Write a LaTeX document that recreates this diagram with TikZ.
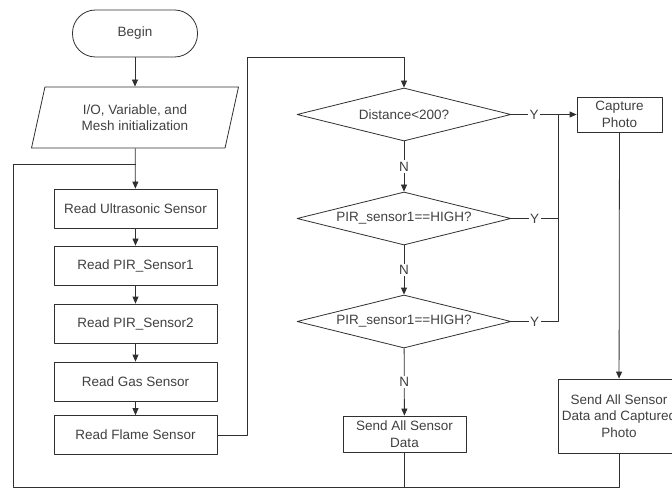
\documentclass[tikz,border=0pt]{standalone}
\usepackage{fontspec}
\setmainfont{Liberation Sans}
\usetikzlibrary{shapes.geometric,arrows.meta}
\definecolor{linegray}{HTML}{303030}
\definecolor{textgray}{HTML}{404040}
\tikzset{
	base/.style={draw=linegray,line width=0.8pt,text=textgray,align=center,inner sep=0pt},
	terminal/.style={base,rectangle,rounded corners=23pt,minimum width=125pt,minimum height=47pt},
	iobox/.style={base,trapezium,trapezium left angle=63,trapezium right angle=117,trapezium stretches body,minimum width=207pt,minimum height=61pt},
	procbox/.style={base,rectangle,minimum width=163pt,minimum height=39pt},
	decision/.style={base,diamond,aspect=4,minimum width=214pt,minimum height=53pt},
	branch/.style={fill=white,text=textgray,inner sep=1.5pt},
	conn/.style={draw=linegray,line width=0.8pt}
}
\begin{document}
\begin{tikzpicture}[x=1pt,y=-1pt,line join=round,>={Triangle[length=7pt,width=6pt]},
	font=\fontsize{13.5}{16.5}\selectfont]
	\useasboundingbox (0,0) rectangle (672,489);
	% left column
	\node[terminal] (begin) at (135,33.5) {Begin};
	\node[iobox] (init) at (135,117.5) {I/O, Variable, and\\Mesh initialization};
	\node[procbox] (us) at (135.5,208.5) {Read Ultrasonic Sensor};
	\node[procbox] (pir1) at (135.5,265.5) {Read PIR\_Sensor1};
	\node[procbox] (pir2) at (135.5,323.5) {Read PIR\_Sensor2};
	\node[procbox] (gas) at (135.5,381.5) {Read Gas Sensor};
	\node[procbox] (flame) at (135.5,435) {Read Flame Sensor};
	% decisions
	\node[decision] (d1) at (404,114.5) {Distance<200?};
	\node[decision] (d2) at (404,218.5) {PIR\_sensor1==HIGH?};
	\node[decision] (d3) at (404,321.5) {PIR\_sensor1==HIGH?};
	\node[procbox,minimum width=123pt,minimum height=36pt] (send1) at (404.5,434) {Send All Sensor\\Data};
	% right column
	\node[procbox,minimum width=85pt,minimum height=35pt] (capture) at (619.5,114.5) {Capture\\Photo};
	\node[procbox,minimum width=122pt,minimum height=74pt] (send2) at (619,416) {Send All Sensor\\Data and Captured\\Photo};
	\coordinate (up) at (247,57);
	\coordinate (bus) at (558,321.5);
	\coordinate (lb) at (13,487);
	\coordinate (lt) at (13,164);
	% connectors
	\draw[conn,->] (begin) -- (init);
	\draw[conn,->] (init) -- (us);
	\foreach \a/\b in {us/pir1,pir1/pir2,pir2/gas,gas/flame}
		\draw[conn,->] (\a) -- (\b);
	\draw[conn,->] (flame.east) -| (up) -| (d1.north);
	\draw[conn,->] (d1) -- node[branch]{N} (d2);
	\draw[conn,->] (d2) -- node[branch]{N} (d3);
	\draw[conn,->] (d3) -- node[branch]{N} (send1);
	\draw[conn,->] (d1.east) -- node[branch,pos=0.35]{Y} (capture.west);
	\draw[conn] (d2.east) -- node[branch]{Y} (d2.east -| bus);
	\draw[conn] (d3.east) -- node[branch]{Y} (bus) -- (bus |- d1.east);
	\draw[conn,->] (capture) -- (send2);
	\draw[conn] (send2) |- (lb) -- (lt) -- (us.north |- lt);
	\draw[conn] (send1) -- (send1 |- lb);
\end{tikzpicture}
\end{document}
